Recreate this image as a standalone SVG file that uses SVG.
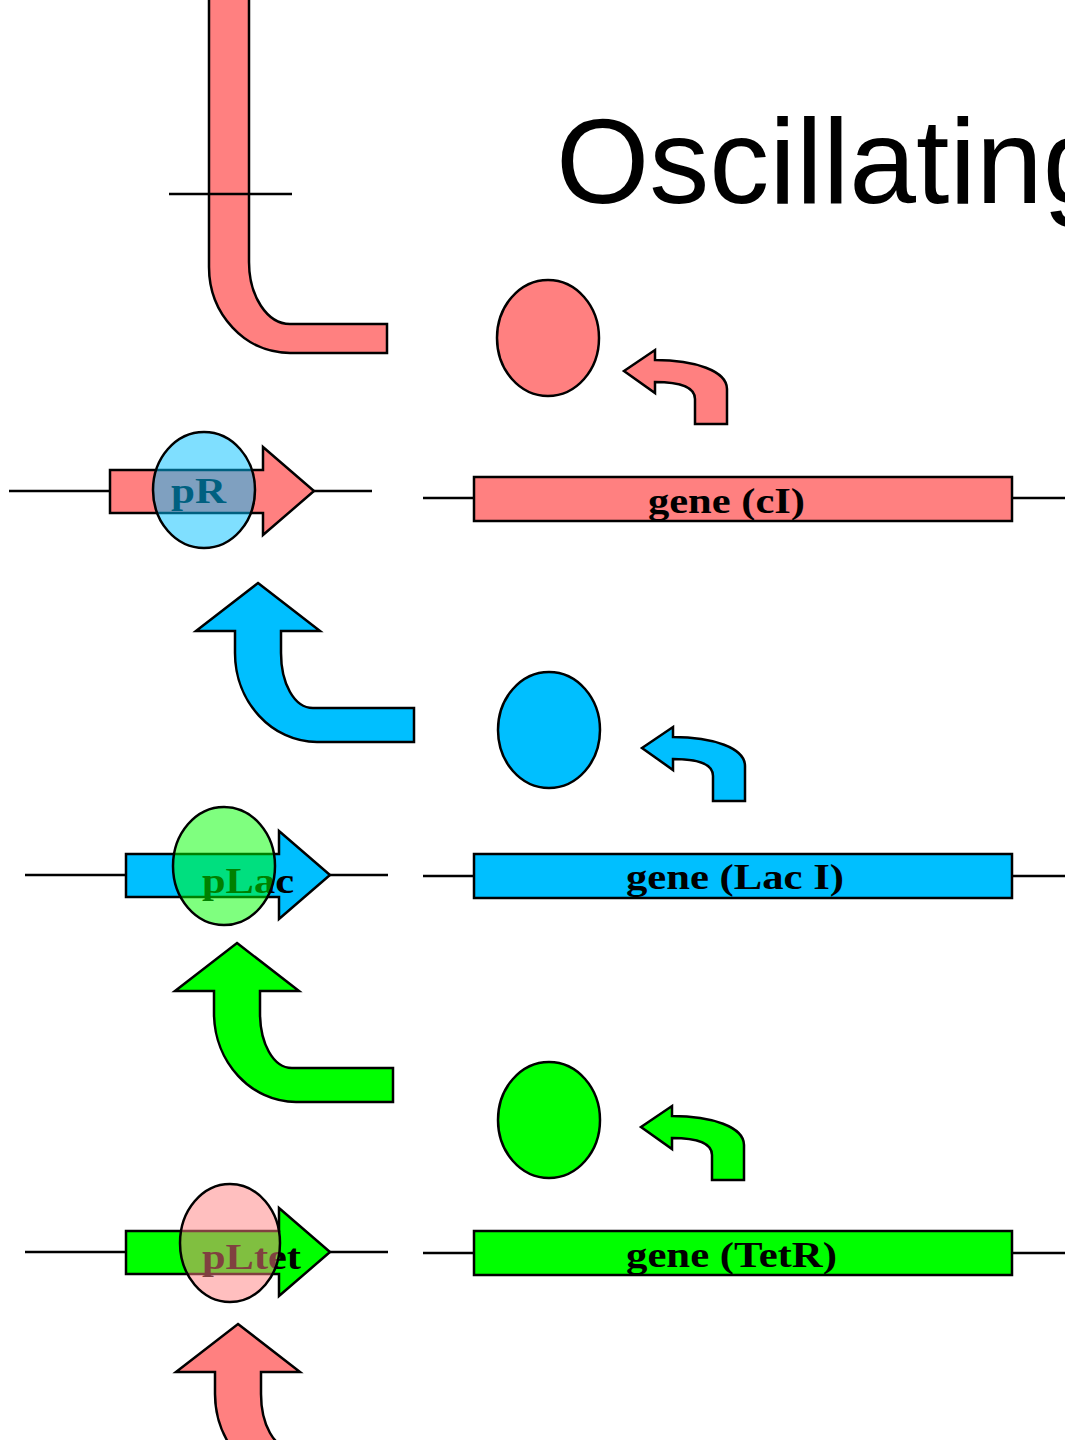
<svg xmlns="http://www.w3.org/2000/svg" xmlns:xlink="http://www.w3.org/1999/xlink" width="1065" height="1440" viewBox="0 0 1065 1440">
  <style>
    .ln { stroke: #000; stroke-width: 2.5; fill: none; }
    .sh { stroke: #000; stroke-width: 2.5; stroke-linejoin: miter; }
    .red { fill: #FF8080; }
    .blue { fill: #00BFFF; }
    .green { fill: #00FF00; }
    .lbl { font-family: "Liberation Serif", "Times New Roman", serif; font-weight: bold; font-size: 36px; fill: #000; }
    .title { font-family: "Liberation Sans", Arial, sans-serif; font-size: 120px; fill: #000; }
    .bind { stroke: #000; stroke-width: 2.5; fill-opacity: 0.5; }
  </style>
  <defs>
    <!-- bent arrow, tip at origin, pointing up -->
    <path id="bendUp" d="M0,0 L62,48 L23,48 L23,70 C23,100 36,125 55,125 L156,125 L156,159 L59,159 C14,159 -23,119 -23,70 L-23,48 L-62,48 Z"/>
    <!-- small curved arrow, tip at origin, pointing left -->
    <path id="curlLeft" d="M0,0 L31,-21 L31,-11 C71,-11 103,0 103,18 L103,53 L71,53 L71,28 C71,16 55,11 31,11 L31,22 Z"/>
    <!-- promoter arrow, base line at y=0 -->
    <path id="promArrow" d="M0,-21 L153,-21 L153,-44 L204,0 L153,44 L153,22 L0,22 Z"/>
  </defs>

  <text class="title" x="556" y="203">Oscillating</text>

  <g id="connectors">
    <g id="repress-top">
      <path class="sh red" d="M209,-5 L249,-5 L249,262 C249,296 267,324 290,324 L387,324 L387,353 L290,353 C245,353 209,314 209,267 Z"/>
      <line class="ln" x1="169" y1="194" x2="292" y2="194"/>
    </g>
    <use id="bend-lacI" xlink:href="#bendUp" class="sh blue" x="258" y="583"/>
    <use id="bend-tetR" xlink:href="#bendUp" class="sh green" x="237" y="943"/>
    <use id="bend-cI" xlink:href="#bendUp" class="sh red" x="238" y="1324"/>
    <use id="curl-cI" xlink:href="#curlLeft" class="sh red" x="624" y="371"/>
    <use id="curl-lacI" xlink:href="#curlLeft" class="sh blue" x="642" y="748"/>
    <use id="curl-tetR" xlink:href="#curlLeft" class="sh green" x="641" y="1127"/>
  </g>

  <g id="protein-cI"><ellipse class="sh red" cx="548" cy="338" rx="51" ry="58"/></g>
  <g id="protein-lacI"><ellipse class="sh blue" cx="549" cy="730" rx="51" ry="58"/></g>
  <g id="protein-tetR"><ellipse class="sh green" cx="549" cy="1120" rx="51" ry="58"/></g>

  <g id="promoter-pR">
    <line class="ln" x1="9" y1="491" x2="372" y2="491"/>
    <use xlink:href="#promArrow" class="sh red" x="110" y="491"/>
    <text class="lbl" x="171" y="503" textLength="55" lengthAdjust="spacingAndGlyphs">pR</text>
    <ellipse class="bind" fill="#00BFFF" cx="204" cy="490" rx="51" ry="58"/>
  </g>

  <g id="gene-cI">
    <line class="ln" x1="423" y1="498" x2="1065" y2="498"/>
    <rect class="sh red" x="474" y="477" width="538" height="44"/>
    <text class="lbl" x="648" y="513" textLength="157" lengthAdjust="spacingAndGlyphs">gene (cI)</text>
  </g>

  <g id="promoter-pLac">
    <line class="ln" x1="25" y1="875" x2="388" y2="875"/>
    <use xlink:href="#promArrow" class="sh blue" x="126" y="875"/>
    <text class="lbl" x="202" y="893" textLength="92" lengthAdjust="spacingAndGlyphs">pLac</text>
    <ellipse class="bind" fill="#00FF00" cx="224" cy="866" rx="51" ry="59"/>
  </g>

  <g id="gene-lacI">
    <line class="ln" x1="423" y1="876" x2="1065" y2="876"/>
    <rect class="sh blue" x="474" y="854" width="538" height="44"/>
    <text class="lbl" x="626" y="889" textLength="218" lengthAdjust="spacingAndGlyphs">gene (Lac I)</text>
  </g>

  <g id="promoter-pLtet">
    <line class="ln" x1="25" y1="1252" x2="388" y2="1252"/>
    <use xlink:href="#promArrow" class="sh green" x="126" y="1252"/>
    <text class="lbl" x="202" y="1269" textLength="99" lengthAdjust="spacingAndGlyphs">pLtet</text>
    <ellipse class="bind" fill="#FF8080" cx="230" cy="1243" rx="50" ry="59"/>
  </g>

  <g id="gene-tetR">
    <line class="ln" x1="423" y1="1253" x2="1065" y2="1253"/>
    <rect class="sh green" x="474" y="1231" width="538" height="44"/>
    <text class="lbl" x="626" y="1267" textLength="211" lengthAdjust="spacingAndGlyphs">gene (TetR)</text>
  </g>
</svg>
